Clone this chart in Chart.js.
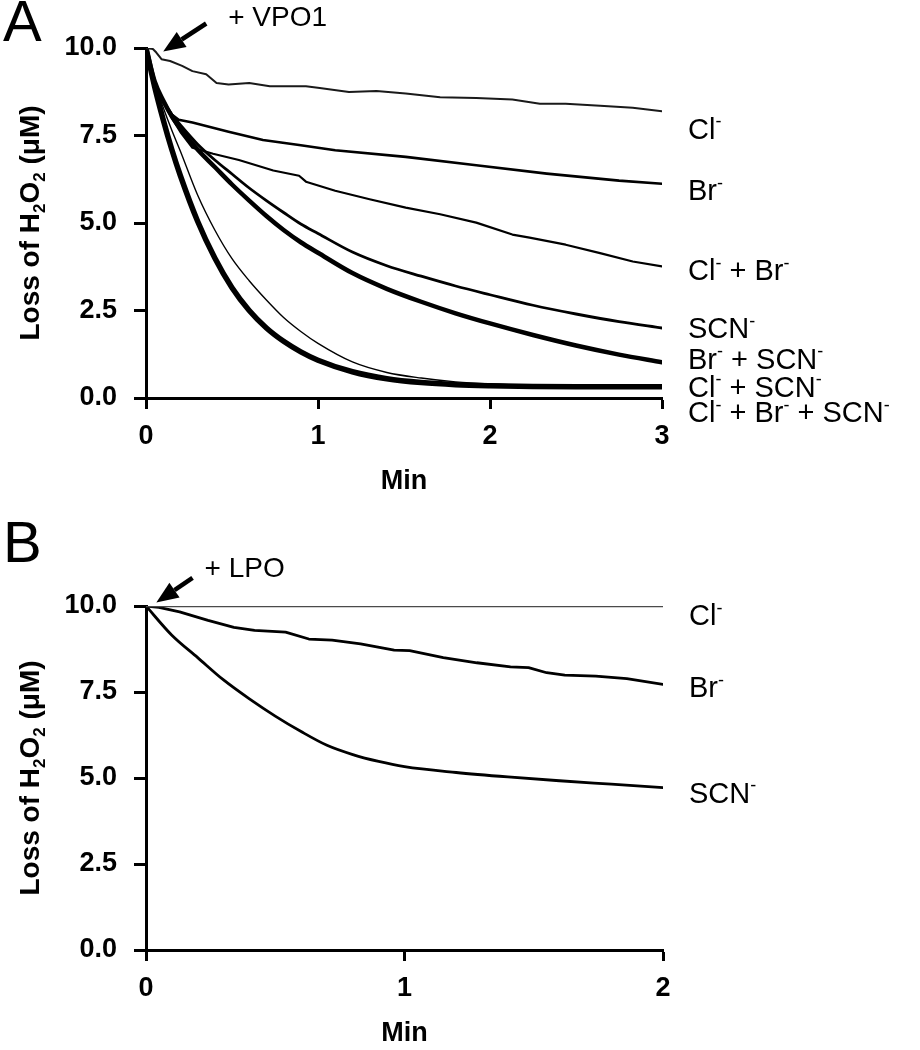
<!DOCTYPE html>
<html>
<head>
<meta charset="utf-8">
<script src="https://cdn.jsdelivr.net/npm/chart.js@4.4.0/dist/chart.umd.min.js"></script>
<style>
  body { margin: 0; background: #fff; }
  canvas { position: absolute; left: 0; }
  #chartA { top: 0; }
  #chartB { top: 505px; }
</style>
</head>
<body>
<canvas id="chartA" width="920" height="505"></canvas>
<canvas id="chartB" width="920" height="545"></canvas>
<script>
// ---- Panel A data (VPO1), minutes vs loss of H2O2 (uM) ----
const tA = [0, 0.05, 0.1, 0.15, 0.2, 0.3, 0.4, 0.5, 0.6, 0.7, 0.8, 0.9, 1.0, 1.2, 1.4, 1.6, 1.8, 2.0, 2.25, 2.5, 2.75, 3.0];
const scnA      = [10, 9.05, 8.5, 8.1, 7.8, 7.25, 6.8, 6.4, 6.0, 5.64, 5.3, 4.97, 4.7, 4.17, 3.78, 3.48, 3.2, 2.95, 2.65, 2.4, 2.18, 2.0];
const brScnA    = [10, 9.05, 8.5, 8.05, 7.7, 7.1, 6.6, 6.1, 5.64, 5.2, 4.8, 4.45, 4.15, 3.57, 3.12, 2.75, 2.42, 2.13, 1.8, 1.5, 1.24, 1.02];
const clScnA    = [10, 9.0, 8.3, 7.65, 7.05, 5.8, 4.8, 3.98, 3.35, 2.8, 2.3, 1.9, 1.56, 1.03, 0.73, 0.57, 0.46, 0.4, 0.36, 0.34, 0.34, 0.34];
const clBrScnA  = [10, 8.9, 7.95, 7.1, 6.35, 5.05, 4.0, 3.15, 2.5, 2.0, 1.62, 1.32, 1.08, 0.75, 0.55, 0.44, 0.38, 0.35, 0.33, 0.32, 0.32, 0.32];

const tClA = [0, 0.04, 0.06, 0.09, 0.14, 0.21, 0.27, 0.35, 0.41, 0.48, 0.6, 0.72, 0.93, 1.01, 1.18, 1.34, 1.51, 1.71, 1.92, 2.13, 2.29, 2.44, 2.64, 2.83, 3.0];
const clA  = [10, 9.97, 9.87, 9.68, 9.63, 9.49, 9.34, 9.25, 9.0, 8.96, 9.0, 8.91, 8.91, 8.86, 8.74, 8.77, 8.7, 8.59, 8.57, 8.53, 8.41, 8.41, 8.35, 8.29, 8.19];

const tBrA = [0, 0.05, 0.1, 0.15, 0.19, 0.27, 0.48, 0.68, 0.89, 1.1, 1.51, 1.92, 2.33, 2.75, 3.0];
const brA  = [10, 9.0, 8.45, 8.1, 7.95, 7.87, 7.61, 7.37, 7.23, 7.08, 6.89, 6.65, 6.41, 6.21, 6.12];

const tClBrA = [0, 0.05, 0.1, 0.15, 0.2, 0.27, 0.39, 0.54, 0.74, 0.89, 0.93, 1.1, 1.3, 1.51, 1.71, 1.92, 2.13, 2.23, 2.44, 2.64, 2.83, 3.0];
const clBrA  = [10, 9.05, 8.45, 8.0, 7.6, 7.15, 6.98, 6.8, 6.5, 6.35, 6.18, 5.92, 5.68, 5.44, 5.25, 5.01, 4.67, 4.58, 4.38, 4.14, 3.9, 3.76];

// ---- Panel B data (LPO) ----
const tClB = [0, 2];
const clB  = [10, 10];
const tBrB = [0, 0.05, 0.13, 0.24, 0.34, 0.42, 0.54, 0.63, 0.72, 0.83, 0.96, 1.02, 1.15, 1.28, 1.41, 1.48, 1.55, 1.62, 1.74, 1.86, 2.0];
const brB  = [10, 9.96, 9.83, 9.58, 9.38, 9.29, 9.24, 9.04, 9.01, 8.9, 8.72, 8.7, 8.5, 8.35, 8.23, 8.21, 8.06, 7.99, 7.96, 7.89, 7.72];
const tScnB = [0, 0.1, 0.2, 0.3, 0.4, 0.5, 0.6, 0.7, 0.8, 0.9, 1.0, 1.2, 1.4, 1.6, 1.8, 2.0];
const scnB  = [10, 9.15, 8.5, 7.85, 7.3, 6.8, 6.35, 5.95, 5.68, 5.48, 5.33, 5.16, 5.03, 4.92, 4.82, 4.72];

// tick labels / texts
const yTicks = [0, 2.5, 5, 7.5, 10];
const labelsA = ['Cl⁻', 'Br⁻', 'Cl⁻ + Br⁻', 'SCN⁻', 'Br⁻ + SCN⁻', 'Cl⁻ + SCN⁻', 'Cl⁻ + Br⁻ + SCN⁻'];
const labelsB = ['Cl⁻', 'Br⁻', 'SCN⁻'];
const yTitle = 'Loss of H₂O₂ (μM)';

const pts = (t, v) => t.map((ti, i) => ({ x: ti, y: v[i] }));

// draws text where ⁻ is a raised small minus and ₂ a lowered small 2
function richParts(text) {
  const parts = [];
  for (const ch of text) {
    if (ch === '⁻') parts.push({ s: '-', k: 'sup' });
    else if (ch === '₂') parts.push({ s: '2', k: 'sub' });
    else if (parts.length && parts[parts.length - 1].k === 'n') parts[parts.length - 1].s += ch;
    else parts.push({ s: ch, k: 'n' });
  }
  return parts;
}
function drawRich(ctx, text, x, y, size, weight, align) {
  const fam = '"Liberation Sans", Arial, sans-serif';
  const parts = richParts(text);
  const fontFor = p => weight + ' ' + (p.k === 'n' ? size : Math.round(size * 0.62)) + 'px ' + fam;
  let w = 0;
  parts.forEach(p => { ctx.font = fontFor(p); p.w = ctx.measureText(p.s).width; w += p.w; });
  let cx = align === 'center' ? x - w / 2 : x;
  ctx.textAlign = 'left';
  ctx.textBaseline = 'alphabetic';
  const base = y + size * 0.36;
  parts.forEach(p => {
    ctx.font = fontFor(p);
    let dy = 0;
    if (p.k === 'sup') dy = -size * 0.4;
    if (p.k === 'sub') dy = size * 0.2;
    ctx.fillText(p.s, cx, base + dy);
    cx += p.w;
  });
}

const annot = {
  id: 'annot',
  afterDraw(chart, args, o) {
    const { ctx, chartArea, scales: { x, y } } = chart;
    ctx.save();
    ctx.fillStyle = '#000';
    ctx.strokeStyle = '#000';
    // panel letter
    ctx.font = '58px "Liberation Sans", Arial, sans-serif';
    ctx.textAlign = 'left';
    ctx.textBaseline = 'middle';
    ctx.fillText(o.letter, 3, chartArea.top - o.letterDy);
    // y axis title
    ctx.save();
    ctx.translate(29, (chartArea.top + chartArea.bottom) / 2);
    ctx.rotate(-Math.PI / 2);
    drawRich(ctx, yTitle, 0, 0, 28, 'bold', 'center');
    ctx.restore();
    // series labels on the right
    o.labels.forEach((lab, i) => {
      drawRich(ctx, lab, chartArea.right + 26, y.getPixelForValue(o.labelY[i]), 29, 'normal', 'left');
    });
    // arrow and enzyme text
    const tx = x.getPixelForValue(o.arrow[0]), ty = y.getPixelForValue(o.arrow[1]);
    const sx = x.getPixelForValue(o.arrow[2]), sy = y.getPixelForValue(o.arrow[3]);
    const ang = Math.atan2(ty - sy, tx - sx);
    const hl = 22, hw = 9;
    const bx = tx - hl * Math.cos(ang), by = ty - hl * Math.sin(ang);
    ctx.lineWidth = 4.5;
    ctx.beginPath(); ctx.moveTo(sx, sy); ctx.lineTo(bx, by); ctx.stroke();
    ctx.beginPath();
    ctx.moveTo(tx, ty);
    ctx.lineTo(bx + hw * Math.sin(ang), by - hw * Math.cos(ang));
    ctx.lineTo(bx - hw * Math.sin(ang), by + hw * Math.cos(ang));
    ctx.closePath(); ctx.fill();
    drawRich(ctx, o.enzyme, sx + o.textDx, sy - o.textDy, 28, 'normal', 'left');
    ctx.restore();
  }
};

function makeChart(id, datasets, xMax, xStep, pad, xAxisH, extra) {
  return new Chart(document.getElementById(id), {
    type: 'line',
    data: { datasets },
    plugins: [annot],
    options: {
      responsive: false,
      animation: false,
      devicePixelRatio: 1,
      layout: { padding: pad },
      elements: { point: { radius: 0 }, line: { borderColor: '#000', tension: 0, borderCapStyle: 'round', borderJoinStyle: 'round' } },
      plugins: { legend: { display: false }, tooltip: { enabled: false }, annot: extra },
      scales: {
        x: {
          type: 'linear', min: 0, max: xMax,
          afterFit: s => { s.height = xAxisH; },
          border: { display: true, color: '#000', width: 3 },
          grid: { display: true, drawOnChartArea: false, drawTicks: true, tickLength: 11, tickWidth: 3, tickColor: '#000' },
          ticks: { stepSize: xStep, color: '#000', padding: 11, font: { family: '"Liberation Sans", Arial, sans-serif', size: 27, weight: 'bold' }, callback: v => v },
          title: { display: true, text: 'Min', color: '#000', padding: { top: 0, bottom: 0 }, font: { family: '"Liberation Sans", Arial, sans-serif', size: 27, weight: 'bold' } }
        },
        y: {
          min: 0, max: 10,
          afterFit: s => { s.width = 146; },
          afterBuildTicks: s => { s.ticks = yTicks.map(v => ({ value: v })); },
          border: { display: true, color: '#000', width: 3 },
          grid: { display: true, drawOnChartArea: false, drawTicks: true, tickLength: 12, tickWidth: 3, tickColor: '#000' },
          ticks: { color: '#000', padding: 17, font: { family: '"Liberation Sans", Arial, sans-serif', size: 27, weight: 'bold' }, callback: v => v.toFixed(1) }
        }
      }
    }
  });
}

makeChart('chartA', [
  { label: 'Cl⁻', data: pts(tClA, clA), borderWidth: 2, borderColor: '#1a1a1a' },
  { label: 'Br⁻', data: pts(tBrA, brA), borderWidth: 2.6 },
  { label: 'Cl⁻ + Br⁻', data: pts(tClBrA, clBrA), borderWidth: 2.2 },
  { label: 'SCN⁻', data: pts(tA, scnA), borderWidth: 2.8, cubicInterpolationMode: 'monotone' },
  { label: 'Br⁻ + SCN⁻', data: pts(tA, brScnA), borderWidth: 4.5, cubicInterpolationMode: 'monotone' },
  { label: 'Cl⁻ + SCN⁻', data: pts(tA, clScnA), borderWidth: 1.4, cubicInterpolationMode: 'monotone' },
  { label: 'Cl⁻ + Br⁻ + SCN⁻', data: pts(tA, clBrScnA), borderWidth: 5.5, cubicInterpolationMode: 'monotone' }
], 3, 1, { left: 0, top: 48, right: 258, bottom: 7 }, 100, {
  letter: 'A', letterDy: 23, labels: labelsA,
  labelY: [7.7, 5.95, 3.66, 2.0, 1.14, 0.34, -0.4],
  arrow: [0.1, 9.9, 0.35, 10.7], enzyme: '+ VPO1', textDx: 22, textDy: 8
});

makeChart('chartB', [
  { label: 'Cl⁻', data: pts(tClB, clB), borderWidth: 2.4, borderColor: '#4a4a4a' },
  { label: 'Br⁻', data: pts(tBrB, brB), borderWidth: 2.8 },
  { label: 'SCN⁻', data: pts(tScnB, scnB), borderWidth: 2.8, cubicInterpolationMode: 'monotone' }
], 2, 1, { left: 0, top: 101, right: 257, bottom: 0 }, 100, {
  letter: 'B', letterDy: 60, labels: labelsB,
  labelY: [9.74, 7.65, 4.59],
  arrow: [0.04, 10.1, 0.18, 10.82], enzyme: '+ LPO', textDx: 12, textDy: 11
});
</script>
</body>
</html>
